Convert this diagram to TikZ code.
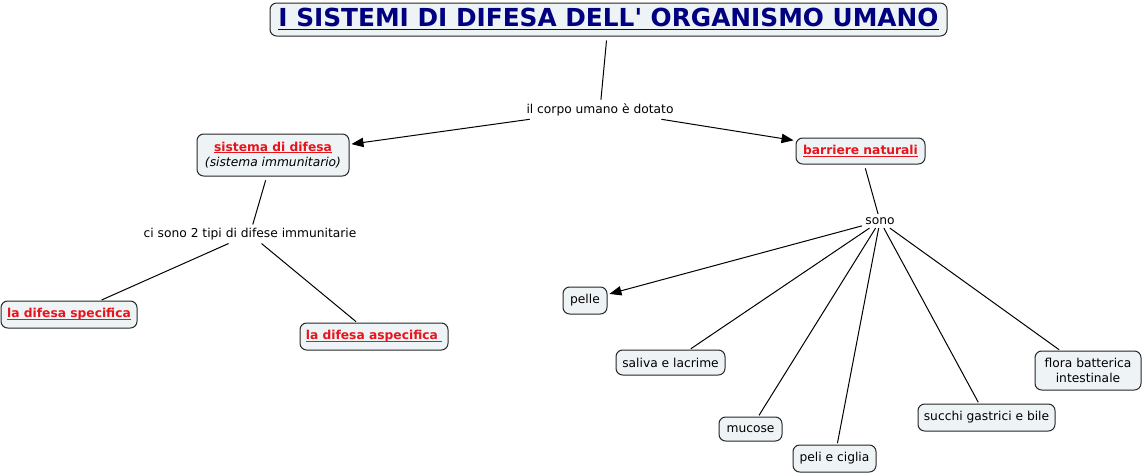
\documentclass[tikz,border=0pt]{standalone}
\usepackage{fontspec}
\setmainfont{DejaVu Sans}
\usetikzlibrary{arrows.meta}
\definecolor{boxfill}{HTML}{EEF3F5}
\definecolor{navyc}{HTML}{000080}
\definecolor{lnk}{HTML}{E8141B}
\newcommand\myul[1]{\setbox0\hbox{#1}\leavevmode\rlap{\rule[-1.6pt]{\wd0}{0.7pt}}\box0}
\newcommand\ulred[1]{\textcolor{lnk}{\bfseries\myul{#1}}}
\begin{document}
\begin{tikzpicture}[x=0.75pt,y=-0.75pt,
  box/.style={draw=black!85, line width=0.75pt, fill=boxfill, rounded corners=5pt, inner sep=0pt, align=center, font=\fontsize{9.2}{11.5}\selectfont},
  bx/.style 2 args={minimum width=#1*0.75pt, minimum height=#2*0.75pt},
  lbl/.style={inner sep=2.5pt, font=\fontsize{9.2}{11}\selectfont},
  con/.style={draw=black, line width=0.75pt},
  arr/.style={con, -{Triangle[length=9pt,width=7pt]}, shorten >=1.5pt}
]
\useasboundingbox (0,0) rectangle (1144,475);
% nodes
\node[box, bx={677}{33}, font=\fontsize{18.6}{22}\selectfont\bfseries] (title) at (608.5,19.5) {\textcolor{navyc}{\setbox0\hbox{I SISTEMI DI DIFESA DELL\textquotesingle{} ORGANISMO UMANO}\rlap{\rule[-2.6pt]{\wd0}{1.1pt}}\box0}};
\node[lbl] (corpo) at (600,109.5) {il corpo umano è dotato};
\node[box, bx={152}{42}] (sist) at (273,155) {\ulred{sistema di difesa}\\\textit{(sistema immunitario)}};
\node[box, bx={129}{26}] (barr) at (860.5,151) {\ulred{barriere naturali}};
\node[lbl] (tipi) at (250,234) {ci sono 2 tipi di difese immunitarie};
\node[box, bx={136}{27}] (spec) at (69,314.5) {\ulred{la difesa specifica}};
\node[box, bx={148}{27}] (aspec) at (374,336.5) {\ulred{la difesa aspecifica\ }};
\node[lbl] (sono) at (880,221) {sono};
\node[box, bx={44}{27}] (pelle) at (585,300.5) {pelle};
\node[box, bx={109}{25}] (saliva) at (670.5,362.5) {saliva e lacrime};
\node[box, bx={63}{24}] (mucose) at (750.5,429) {mucose};
\node[box, bx={83}{27}] (peli) at (834.5,458.5) {peli e ciglia};
\node[box, bx={137}{27}] (succhi) at (986.5,417.5) {succhi gastrici e bile};
\node[box, bx={106}{39}] (flora) at (1088,370.5) {flora batterica\\intestinale};
% connectors
\draw[con, shorten <=3pt] (title) -- (corpo);
\draw[arr] (corpo) -- (sist);
\draw[arr] (corpo) -- (barr);
\draw[con, shorten <=3pt] (sist) -- (tipi);
\draw[con, shorten >=1pt] (tipi) -- (spec);
\draw[con, shorten >=1pt] (tipi) -- (aspec);
\draw[con, shorten <=3pt] (barr) -- (sono);
\draw[arr] (sono) -- (pelle);
\draw[con, shorten >=1pt] (sono) -- (saliva);
\draw[con, shorten >=1pt] (sono) -- (mucose);
\draw[con, shorten >=1pt] (sono) -- (peli);
\draw[con, shorten >=1pt] (sono) -- (succhi);
\draw[con, shorten >=1pt] (sono) -- (flora);
\end{tikzpicture}
\end{document}
